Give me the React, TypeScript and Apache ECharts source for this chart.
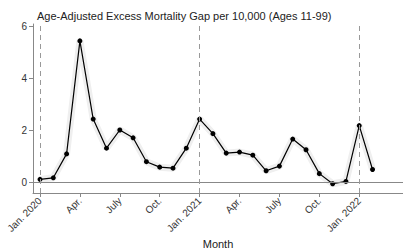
import React, { useEffect, useRef } from "react";
import * as echarts from "echarts";

const months: number[] = Array.from({ length: 26 }, (_, i) => i);
const values: number[] = [
  0.12, 0.18, 1.1, 5.45, 2.44, 1.32, 2.02, 1.72, 0.8, 0.59, 0.55, 1.32,
  2.44, 1.88, 1.13, 1.17, 1.05, 0.45, 0.63, 1.67, 1.26, 0.34, -0.05, 0.04,
  2.19, 0.5,
];
const tickMonths: number[] = [0, 3, 6, 9, 12, 15, 18, 21, 24];
const tickLabels: string[] = [
  "Jan. 2020", "Apr.", "July", "Oct.", "Jan. 2021", "Apr.", "July", "Oct.", "Jan. 2022",
];
const yTicks: number[] = [0, 2, 4, 6];
const yearStarts: number[] = [0, 12, 24];

export default function App() {
  const ref = useRef<HTMLDivElement>(null);
  useEffect(() => {
    if (!ref.current) return;
    const chart = echarts.init(ref.current, null, { renderer: "svg" });
    const pts = months.map((m, i) => [m, values[i]]);
    const font = "'Liberation Sans', Arial, sans-serif";
    chart.setOption({
      animation: false,
      textStyle: { fontFamily: font },
      title: {
        text: "Age-Adjusted Excess Mortality Gap per 10,000 (Ages 11-99)",
        left: 32,
        top: 5,
        textStyle: { fontSize: 11, fontWeight: "normal", color: "#222", fontFamily: font },
      },
      grid: { left: 33, right: 0, top: 24, bottom: 57, containLabel: false, outerBoundsMode: "none" },
      xAxis: {
        type: "value",
        min: -0.526,
        max: 27.29,
        name: "Month",
        nameLocation: "middle",
        nameGap: 45,
        nameMoveOverlap: false,
        nameTextStyle: { fontSize: 11, color: "#222", fontFamily: font },
        axisLine: { show: true, onZero: false, lineStyle: { color: "#888", width: 1 } },
        axisTick: { show: true, length: 4, customValues: tickMonths, lineStyle: { color: "#888" } },
        axisLabel: {
          customValues: tickMonths,
          rotate: 45,
          fontSize: 10,
          color: "#333",
          margin: 6,
          formatter: (v: number) => tickLabels[tickMonths.indexOf(v)] ?? "",
        },
        splitLine: { show: false },
      },
      yAxis: {
        type: "value",
        min: -0.405,
        max: 6.1,
        axisLine: { show: true, onZero: false, lineStyle: { color: "#888", width: 1 } },
        axisTick: { show: true, length: 4, customValues: yTicks, lineStyle: { color: "#888" } },
        axisLabel: { customValues: yTicks, fontSize: 10, color: "#333", margin: 6 },
        splitLine: { show: false },
      },
      series: [
        {
          type: "line",
          data: pts,
          symbol: "none",
          silent: true,
          lineStyle: { color: "#efefef", width: 7 },
          z: 1,
          markLine: {
            silent: true,
            symbol: "none",
            label: { show: false },
            data: [
              { yAxis: 0, lineStyle: { color: "#888", type: "solid", width: 1 } },
              ...yearStarts.map((m) => ({
                xAxis: m,
                lineStyle: { color: "#999", type: [5, 4], width: 1 },
              })),
            ],
          },
        },
        {
          type: "line",
          data: pts,
          symbol: "circle",
          symbolSize: 5,
          itemStyle: { color: "#000" },
          lineStyle: { color: "#000", width: 1.2 },
          z: 3,
        },
      ],
    });
    return () => chart.dispose();
  }, []);
  return <div ref={ref} style={{ width: 403, height: 250, position: "absolute", left: 0, top: 0 }} />;
}
